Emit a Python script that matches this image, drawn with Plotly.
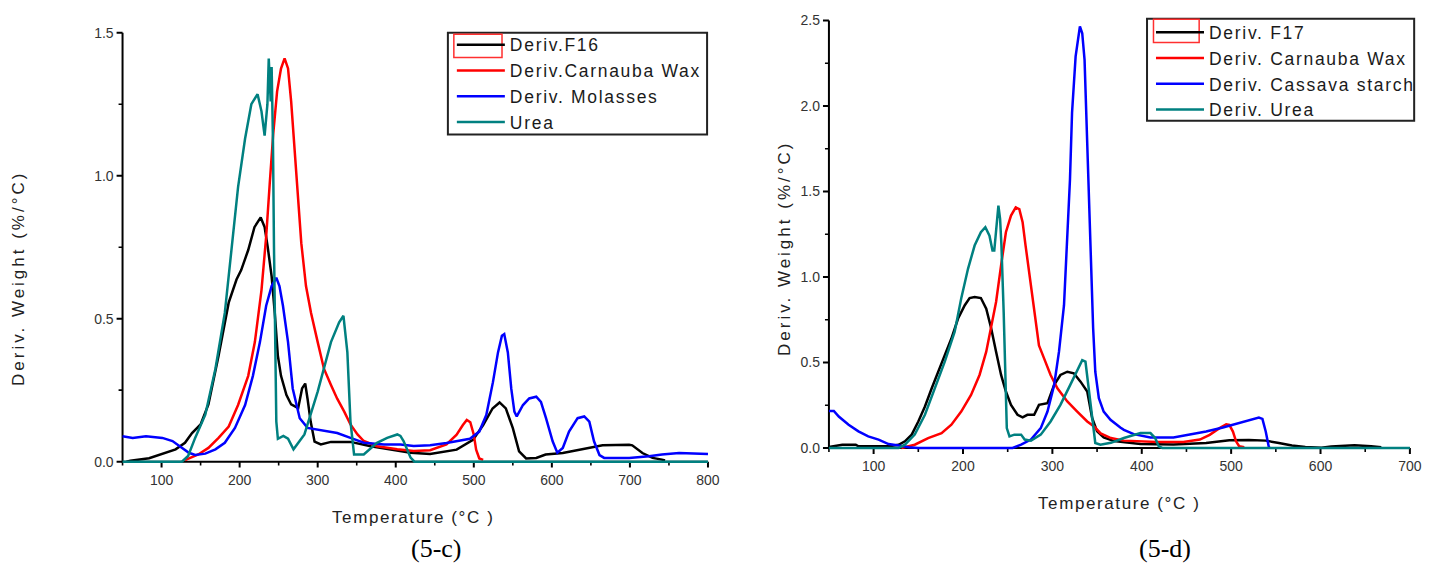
import plotly.graph_objects as go

# ---------------- data ----------------
# Left panel (5-c)
F16_T = [55, 60, 84, 101, 118, 130, 139, 150, 160, 173, 186, 196, 202, 211, 219, 227, 232, 236, 241, 245,
         249, 253, 260, 266, 275, 280, 284, 287, 291, 296, 304, 317, 342, 368, 393, 419, 444, 478, 499, 512,
         524, 533, 541, 550, 558, 567, 580, 592, 614, 639, 665, 699, 703, 716, 729, 741, 745]
F16_V = [0.0, 0.003, 0.012, 0.028, 0.043, 0.066, 0.10, 0.13, 0.20, 0.37, 0.556, 0.637, 0.67, 0.74, 0.82,
         0.854, 0.82, 0.75, 0.648, 0.52, 0.37, 0.30, 0.233, 0.20, 0.187, 0.256, 0.273, 0.22, 0.14, 0.07,
         0.06, 0.069, 0.069, 0.054, 0.043, 0.031, 0.027, 0.042, 0.076, 0.128, 0.186, 0.207, 0.186, 0.117,
         0.036, 0.011, 0.013, 0.025, 0.03, 0.042, 0.057, 0.059, 0.057, 0.03, 0.013, 0.007, 0.004]

CW_T = [130, 147, 160, 173, 186, 198, 211, 219.5, 228, 234, 238.5, 243, 248, 253, 257.6, 262, 266, 270,
        274.6, 279, 285, 291.5, 300, 308, 317, 325, 334, 342, 351, 359, 376, 402, 423, 444, 465, 478, 486,
        491, 495.5, 500, 503, 507, 512]
CW_V = [0.005, 0.025, 0.048, 0.083, 0.123, 0.198, 0.30, 0.418, 0.60, 0.787, 0.97, 1.145, 1.295, 1.375,
        1.41, 1.375, 1.26, 1.10, 0.914, 0.764, 0.614, 0.52, 0.418, 0.325, 0.268, 0.22, 0.175, 0.13, 0.095,
        0.072, 0.054, 0.043, 0.037, 0.04, 0.06, 0.094, 0.128, 0.146, 0.138, 0.094, 0.042, 0.011, 0.006]

MOL_T = [50, 63, 80, 101, 114, 126, 135, 143, 156, 169, 181, 194, 207, 217, 226, 234, 241, 247, 251, 255.5,
         262, 268, 277, 287, 300, 313, 325, 342, 359, 385, 406, 423, 444, 465, 495, 507, 516, 524.5, 531,
         536, 539, 543.6, 548, 552, 555, 563, 571, 580, 586, 592.5, 601, 607, 614, 622, 633, 641.5, 648,
         654, 661, 667, 699, 724.5, 741, 763, 797, 800]
MOL_V = [0.089, 0.083, 0.089, 0.083, 0.072, 0.048, 0.031, 0.023, 0.028, 0.043, 0.066, 0.118, 0.198, 0.30,
         0.418, 0.545, 0.614, 0.643, 0.614, 0.545, 0.418, 0.256, 0.152, 0.118, 0.112, 0.108, 0.10, 0.083,
         0.066, 0.06, 0.06, 0.055, 0.057, 0.065, 0.08, 0.105, 0.163, 0.278, 0.382, 0.44, 0.446, 0.382,
         0.255, 0.175, 0.158, 0.198, 0.221, 0.227, 0.209, 0.152, 0.071, 0.031, 0.048, 0.105, 0.152, 0.158,
         0.14, 0.071, 0.023, 0.013, 0.013, 0.019, 0.025, 0.03, 0.027, 0.027]

UREA_T = [50, 126, 134, 143, 156, 169, 181, 192, 198, 207, 215, 223, 228, 232, 234, 235.6, 237.3, 238.5,
          239.8, 241, 242.7, 244, 245.5, 247, 249, 256, 262, 269, 283, 300, 317, 327.5, 333, 338, 342,
          346.6, 359, 376, 389, 402, 406, 410, 419, 424, 800]
UREA_V = [0, 0, 0.02, 0.083, 0.164, 0.325, 0.52, 0.79, 0.96, 1.13, 1.25, 1.285, 1.225, 1.14, 1.2, 1.25,
          1.41, 1.30, 1.26, 1.38, 1.12, 0.75, 0.35, 0.14, 0.08, 0.09, 0.08, 0.043, 0.095, 0.245, 0.418,
          0.487, 0.51, 0.383, 0.14, 0.025, 0.025, 0.066, 0.083, 0.095, 0.09, 0.072, 0.014, 0, 0]

# Right panel (5-d)
F17_T = [50, 65, 80, 83, 117, 128, 135, 142.6, 150, 157.4, 165, 172, 179.6, 187, 194.5, 202, 207.4, 213,
         220, 226, 231.5, 237, 242.6, 248, 253.7, 261, 266.7, 272, 279.6, 285, 294.5, 302, 309, 316.7, 324,
         331.5, 339, 344.5, 350, 357.4, 369, 398.6, 435.5, 472, 498, 520, 538.7, 553.4, 568, 583, 601, 612,
         638, 656.6, 668]
F17_V = [0.006, 0.019, 0.019, 0.01, 0.01, 0.019, 0.039, 0.078, 0.155, 0.243, 0.349, 0.446, 0.543, 0.64,
         0.757, 0.835, 0.877, 0.883, 0.877, 0.815, 0.70, 0.563, 0.427, 0.33, 0.252, 0.194, 0.179, 0.194,
         0.194, 0.252, 0.262, 0.369, 0.427, 0.446, 0.437, 0.388, 0.33, 0.175, 0.097, 0.062, 0.04, 0.023,
         0.02, 0.029, 0.045, 0.047, 0.043, 0.029, 0.014, 0.006, 0.001, 0.008, 0.016, 0.01, 0.004]

CW2_T = [131, 146, 161, 176, 187, 198, 209, 218.5, 226, 231.5, 237, 242.6, 248, 253.7, 259, 263, 266.7,
         270, 274, 279.6, 285, 290.7, 298, 305.6, 316.7, 327.8, 339, 347, 354, 365.5, 380, 417, 446.5, 465,
         476, 487, 494.5, 498, 502, 505.5, 509, 514.7]
CW2_V = [0, 0.019, 0.058, 0.087, 0.136, 0.213, 0.31, 0.427, 0.563, 0.70, 0.854, 1.068, 1.262, 1.359,
         1.407, 1.397, 1.32, 1.184, 1.029, 0.796, 0.60, 0.524, 0.427, 0.349, 0.272, 0.213, 0.155, 0.124,
         0.085, 0.058, 0.043, 0.035, 0.035, 0.049, 0.077, 0.116, 0.139, 0.135, 0.096, 0.039, 0.01, 0.004]

CAS_T = [50, 55.5, 61, 72, 83, 94, 105.5, 116.7, 128, 139, 150, 255.5, 265, 276, 287, 294.5, 302, 307.4,
         313, 316.7, 319.7, 322, 326, 330.8, 333.4, 336, 339, 342.6, 345.6, 348, 352, 357.4, 365, 376, 380,
         391, 409.7, 435.5, 454, 472, 490.8, 509, 524, 531, 535, 538.7, 542, 543]
CAS_V = [0.217, 0.217, 0.184, 0.136, 0.097, 0.068, 0.049, 0.023, 0.014, 0.004, 0, 0, 0.019, 0.049, 0.116,
         0.213, 0.369, 0.563, 0.835, 1.223, 1.572, 1.96, 2.29, 2.465, 2.426, 2.27, 1.786, 1.087, 0.70,
         0.446, 0.291, 0.213, 0.165, 0.12, 0.106, 0.081, 0.062, 0.062, 0.077, 0.096, 0.12, 0.145, 0.164,
         0.178, 0.17, 0.096, 0.01, 0]

UREA2_T = [50, 128, 135, 146, 157.4, 168.5, 179.6, 190.7, 198, 205.6, 213, 220, 225, 229.6, 233, 235,
           237.8, 239.6, 241.5, 243, 245.5, 247.4, 249, 252, 257.4, 265, 269, 276, 287, 298, 309, 320,
           327.8, 333.4, 337, 340.7, 344.5, 348, 353.7, 365.5, 380, 391, 398.6, 409.7, 415, 419, 423, 700]
UREA2_V = [0, 0, 0.019, 0.078, 0.194, 0.349, 0.505, 0.68, 0.874, 1.048, 1.184, 1.262, 1.291, 1.242,
           1.155, 1.155, 1.32, 1.417, 1.34, 1.184, 0.796, 0.408, 0.116, 0.068, 0.078, 0.078, 0.049, 0.043,
           0.078, 0.155, 0.252, 0.369, 0.456, 0.514, 0.505, 0.349, 0.175, 0.029, 0.019, 0.03, 0.058, 0.077,
           0.087, 0.087, 0.058, 0.01, 0, 0]

LEFT_NAMES = ["Deriv.F16", "Deriv.Carnauba Wax", "Deriv. Molasses", "Urea"]
RIGHT_NAMES = ["Deriv. F17", "Deriv. Carnauba Wax", "Deriv. Cassava starch", "Deriv. Urea"]
COLORS = ["#000000", "#FF0000", "#0000FF", "#008080"]

# axis ranges and ticks
LEFT_XRANGE, RIGHT_XRANGE = [50, 800], [50, 700]
LEFT_YRANGE, RIGHT_YRANGE = [0, 1.5], [0, 2.5]
LEFT_XMAJOR = [100, 200, 300, 400, 500, 600, 700, 800]
LEFT_XMINOR = [50, 150, 250, 350, 450, 550, 650, 750]
RIGHT_XMAJOR = [100, 200, 300, 400, 500, 600, 700]
RIGHT_XMINOR = [50, 150, 250, 350, 450, 550, 650]
LEFT_YMAJOR = [0.0, 0.5, 1.0, 1.5]
LEFT_YMINOR = [0.25, 0.75, 1.25]
RIGHT_YMAJOR = [0.0, 0.5, 1.0, 1.5, 2.0, 2.5]
RIGHT_YMINOR = [0.25, 0.75, 1.25, 1.75, 2.25]

# ---------------- figure ----------------
W, H = 1448, 567
SANS = "Liberation Sans, Arial, sans-serif"
# visible plot boxes in page pixels: (left, right, bottom, top)
LBOX = (123.4, 712.9, 460.5, 27.0)
RBOX = (834.7, 1419.7, 446.7, 14.7)
PAD = 8          # extra room (px) left/below each box so axis frame + ticks are drawn inside the subplot
MAJ_LEN, MIN_LEN = 6, 4


def px(x):
    return x / W


def py(y):
    return 1 - y / H


def spaced(t, s=1.7):
    return '<span style="letter-spacing:%.1fpx">%s</span>' % (s, t)


fig = go.Figure()
tickfont = dict(family=SANS, size=14, color="#333333")
layout_axes = {}
panels = [
    ("", LBOX, LEFT_XRANGE, LEFT_YRANGE, LEFT_XMAJOR, LEFT_XMINOR, LEFT_YMAJOR, LEFT_YMINOR,
     [(F16_T, F16_V), (CW_T, CW_V), (MOL_T, MOL_V), (UREA_T, UREA_V)], LEFT_NAMES, "legend"),
    ("2", RBOX, RIGHT_XRANGE, RIGHT_YRANGE, RIGHT_XMAJOR, RIGHT_XMINOR, RIGHT_YMAJOR, RIGHT_YMINOR,
     [(F17_T, F17_V), (CW2_T, CW2_V), (CAS_T, CAS_V), (UREA2_T, UREA2_V)], RIGHT_NAMES, "legend2"),
]
for sfx, box, xr, yr, xmaj, xmin, ymaj, ymin, series, names, leg in panels:
    L, R, B, T = box
    kx = (R - L) / (xr[1] - xr[0])      # px per x unit
    ky = (B - T) / (yr[1] - yr[0])      # px per y unit
    xa, ya = "x" + sfx, "y" + sfx
    # axis frame (left + bottom) as a line in data units, drawn first so the curves sit on top
    fig.add_trace(go.Scatter(x=[xr[0], xr[0], xr[1]], y=[yr[1], yr[0], yr[0]], mode="lines",
                             line=dict(color="#000000", width=2), showlegend=False, hoverinfo="skip",
                             xaxis=xa, yaxis=ya))
    for ln, wd, xv, yv in [(MAJ_LEN, 2.0, xmaj, ymaj), (MIN_LEN, 1.6, xmin, ymin)]:
        xs, ys = [], []
        for v in xv:
            xs += [v, v, None]
            ys += [yr[0], yr[0] - ln / ky, None]
        for v in yv:
            xs += [xr[0], xr[0] - ln / kx, None]
            ys += [v, v, None]
        fig.add_trace(go.Scatter(x=xs, y=ys, mode="lines", line=dict(color="#000000", width=wd),
                                 showlegend=False, hoverinfo="skip", xaxis=xa, yaxis=ya))
    for (xs, ys), name, c in zip(series, names, COLORS):
        fig.add_trace(go.Scatter(x=xs, y=ys, mode="lines", name=spaced(name), line=dict(color=c, width=2.5),
                                 xaxis=xa, yaxis=ya, legend=leg))
    layout_axes["xaxis" + sfx] = dict(
        domain=[px(L - PAD), px(R + 2)], range=[xr[0] - PAD / kx, xr[1] + 2 / kx], anchor=ya,
        tickvals=xmaj, ticktext=[str(v) for v in xmaj], ticks="", showline=False, showgrid=False,
        zeroline=False, tickfont=tickfont, fixedrange=True)
    layout_axes["yaxis" + sfx] = dict(
        domain=[py(B + PAD), py(T - 2)], range=[yr[0] - PAD / ky, yr[1] + 2 / ky], anchor=xa,
        tickvals=ymaj, ticktext=["%.1f" % v for v in ymaj], ticks="", showline=False, showgrid=False,
        zeroline=False, tickfont=tickfont, fixedrange=True)

legend_font = dict(family=SANS, size=17.5, color="#1a1a1a")
fig.update_layout(
    width=W, height=H, margin=dict(l=0, r=0, t=0, b=0, pad=0), autosize=False,
    paper_bgcolor="white", plot_bgcolor="white",
    legend=dict(x=px(455), y=py(21), xanchor="left", yanchor="top", bgcolor="rgba(0,0,0,0)",
                borderwidth=0, font=legend_font, itemwidth=48, tracegroupgap=0),
    legend2=dict(x=px(1159), y=py(8.5), xanchor="left", yanchor="top", bgcolor="rgba(0,0,0,0)",
                 borderwidth=0, font=legend_font, itemwidth=48, tracegroupgap=0),
    showlegend=True,
    **layout_axes,
)

shapes = []
# legend frames
for (x0, y0, x1, y1) in [(451, 27, 712, 130), (1155, 13, 1424, 116)]:
    shapes.append(dict(type="rect", xref="paper", yref="paper", x0=px(x0), x1=px(x1), y0=py(y0), y1=py(y1),
                       line=dict(color="#222222", width=2), fillcolor="rgba(0,0,0,0)"))
# red selection box around the first legend sample
for (x0, y0, x1, y1) in [(457, 28.5, 505.5, 52), (1161.5, 13.5, 1207.5, 37)]:
    shapes.append(dict(type="rect", xref="paper", yref="paper", x0=px(x0), x1=px(x1), y0=py(y0), y1=py(y1),
                       line=dict(color="#FF3030", width=1.5), fillcolor="rgba(0,0,0,0)"))
fig.update_layout(shapes=shapes)

title_font = dict(family=SANS, size=17, color="#222222")
annotations = [
    dict(text=spaced("Deriv. Weight (%/°C)", 3.0), x=px(18), y=py(275), textangle=-90),
    dict(text=spaced("Deriv. Weight (%/°C)", 3.0), x=px(790), y=py(245), textangle=-90),
    dict(text=spaced("Temperature (°C )", 1.6), x=px(416), y=py(517)),
    dict(text=spaced("Temperature (°C )", 1.6), x=px(1127), y=py(503)),
]
for a in annotations:
    a.update(xref="paper", yref="paper", showarrow=False, font=title_font, xanchor="center", yanchor="middle")
caption_font = dict(family="Liberation Serif, Times New Roman, serif", size=26, color="black")
annotations += [
    dict(text="(5-c)", x=px(440), y=py(548), xref="paper", yref="paper", showarrow=False, font=caption_font,
         xanchor="center", yanchor="middle"),
    dict(text="(5-d)", x=px(1173), y=py(548), xref="paper", yref="paper", showarrow=False, font=caption_font,
         xanchor="center", yanchor="middle"),
]
fig.update_layout(annotations=annotations)

fig.write_html("out.html")
